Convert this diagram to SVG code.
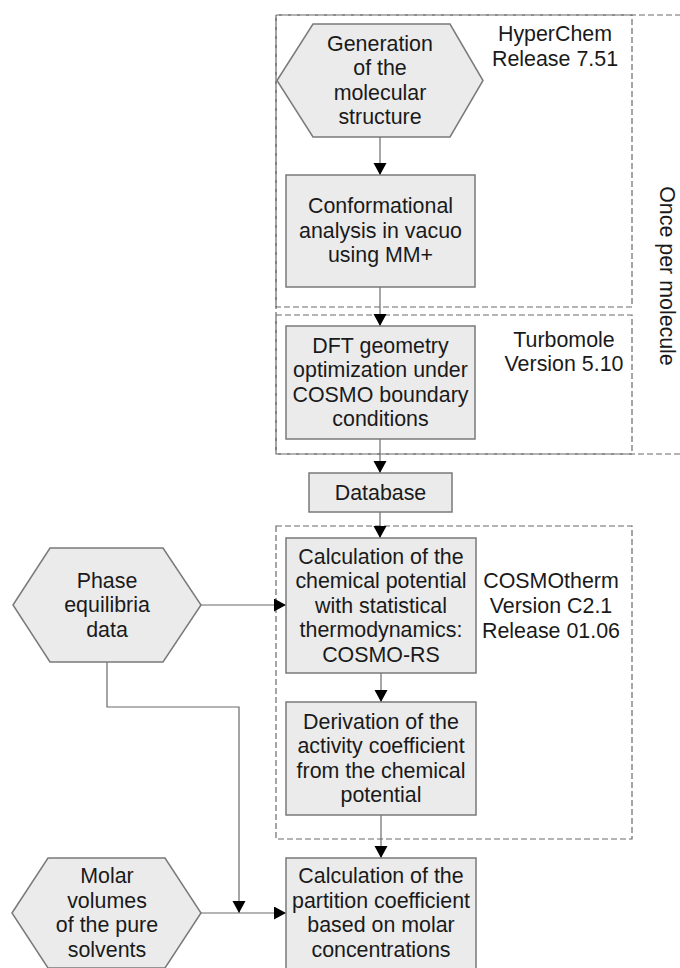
<svg xmlns="http://www.w3.org/2000/svg" width="680" height="968" viewBox="0 0 680 968">
<style>
text{font-family:"Liberation Sans",Arial,sans-serif;font-size:21.4px;fill:#1a1a1a;text-anchor:middle}
.n{fill:#ebebeb;stroke:#7a7a7a;stroke-width:1.5}
.d{fill:none;stroke:#6a6a6a;stroke-width:1.2;stroke-dasharray:6,3}
.c{fill:none;stroke:#6a6a6a;stroke-width:1.2}
</style>
<defs>
<marker id="a" markerUnits="userSpaceOnUse" markerWidth="14" markerHeight="14" refX="12" refY="6.5" orient="auto">
<path d="M0,0 L12,6.5 L0,13 Z" fill="#000"/>
</marker>
</defs>
<g id="groups">
<path class="d" d="M690,15 H276 V454 H690"/>
<rect class="d" x="276" y="15" width="356" height="292"/>
<rect class="d" x="276" y="315" width="356" height="139"/>
<rect class="d" x="276" y="526" width="356" height="313"/>
<text transform="translate(660,276) rotate(90)">Once per molecule</text>
<text x="555" y="41">HyperChem</text>
<text x="555" y="65.5">Release 7.51</text>
<text x="564" y="347">Turbomole</text>
<text x="564" y="371">Version 5.10</text>
<text x="551" y="588">COSMOtherm</text>
<text x="551" y="613">Version C2.1</text>
<text x="551" y="637.5">Release 01.06</text>
</g>
<g id="connectors">
<path class="c" d="M380,137 V175" marker-end="url(#a)"/>
<path class="c" d="M380,287 V326" marker-end="url(#a)"/>
<path class="c" d="M380,439 V473" marker-end="url(#a)"/>
<path class="c" d="M380,512 V538" marker-end="url(#a)"/>
<path class="c" d="M381,673 V702" marker-end="url(#a)"/>
<path class="c" d="M381,815 V858" marker-end="url(#a)"/>
<path class="c" d="M201,605 H286" marker-end="url(#a)"/>
<path class="c" d="M107,662 V707 H239 V913" marker-end="url(#a)"/>
<path class="c" d="M201,913 H286" marker-end="url(#a)"/>
</g>
<g id="gen">
<polygon class="n" points="277,80.5 313,24 450,24 483,80.5 450,137 313,137"/>
<text x="380" y="50.5">Generation</text>
<text x="380" y="75">of the</text>
<text x="380" y="99.5">molecular</text>
<text x="380" y="124">structure</text>
</g>
<g id="conf">
<rect class="n" x="286" y="175" width="189" height="112"/>
<text x="380.5" y="213">Conformational</text>
<text x="380.5" y="237.5">analysis in vacuo</text>
<text x="380.5" y="262">using MM+</text>
</g>
<g id="dft">
<rect class="n" x="286" y="326" width="189" height="113"/>
<text x="380.5" y="352.5">DFT geometry</text>
<text x="380.5" y="377">optimization under</text>
<text x="380.5" y="401.5">COSMO boundary</text>
<text x="380.5" y="426">conditions</text>
</g>
<g id="db">
<rect class="n" x="309" y="473" width="143" height="39"/>
<text x="380.5" y="499.5">Database</text>
</g>
<g id="chem">
<rect class="n" x="286" y="538" width="190" height="135"/>
<text x="381" y="563.5">Calculation of the</text>
<text x="381" y="588">chemical potential</text>
<text x="381" y="612.5">with statistical</text>
<text x="381" y="637">thermodynamics:</text>
<text x="381" y="661.5">COSMO-RS</text>
</g>
<g id="act">
<rect class="n" x="286" y="702" width="190" height="113"/>
<text x="381" y="728.5">Derivation of the</text>
<text x="381" y="753">activity coefficient</text>
<text x="381" y="777.5">from the chemical</text>
<text x="381" y="802">potential</text>
</g>
<g id="part">
<rect class="n" x="286" y="858" width="190" height="112"/>
<text x="381" y="883">Calculation of the</text>
<text x="381" y="907.5">partition coefficient</text>
<text x="381" y="932">based on molar</text>
<text x="381" y="956.5">concentrations</text>
</g>
<g id="phase">
<polygon class="n" points="13,605 50,548 163,548 201,605 163,662 50,662"/>
<text x="107" y="587.5">Phase</text>
<text x="107" y="612">equilibria</text>
<text x="107" y="636.5">data</text>
</g>
<g id="molar">
<polygon class="n" points="12,913 48,858 165,858 201,913 165,968 48,968"/>
<text x="107" y="883">Molar</text>
<text x="107" y="907.5">volumes</text>
<text x="107" y="932">of the pure</text>
<text x="107" y="956.5">solvents</text>
</g>
</svg>
